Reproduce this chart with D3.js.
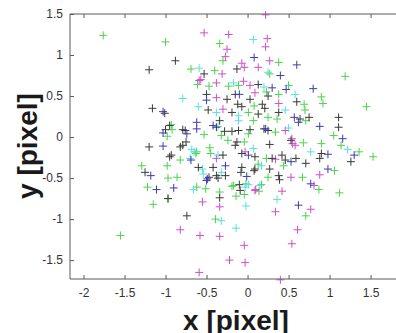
<!DOCTYPE html>
<html><head><meta charset="utf-8">
<script src="https://cdn.jsdelivr.net/npm/d3@7"></script>
<style>
html,body{margin:0;padding:0;background:#fff;}
svg{display:block;}
</style></head>
<body><svg id="c" width="396" height="333"></svg>
<script>
const xTicks = [-2,-1.5,-1,-0.5,0,0.5,1,1.5];
const xTickLabels = ["-2","-1.5","-1","-0.5","0","0.5","1","1.5"];
const yTicks = [-1.5,-1,-0.5,0,0.5,1,1.5];
const yTickLabels = ["-1.5","-1","-0.5","0","0.5","1","1.5"];
const xLabel = "x [pixel]";
const yLabel = "y [pixel]";

const greenPts = [[-1.76,1.24],[-1.0,1.16],[-0.98,0.01],[-1.29,-0.35],[-0.98,-0.35],[-1.22,-0.61],[-1.15,-0.82],[-0.97,-0.75],[-1.55,-1.20],[-0.97,-0.50],[-0.69,0.83],[-0.61,0.64],[-0.93,0.15],[-0.92,0.09],[-0.63,-0.20],[-0.82,-0.28],[-0.34,1.14],[-0.30,0.93],[-0.40,0.81],[-0.47,0.62],[-0.23,0.62],[0.38,0.91],[0.27,0.77],[-0.11,0.63],[0.50,0.63],[0.38,0.52],[0.23,0.55],[0.69,0.40],[0.08,0.38],[1.19,0.74],[0.90,0.49],[0.92,0.41],[1.45,0.37],[0.71,0.20],[1.05,0.02],[1.14,-0.10],[1.36,-0.18],[1.53,-0.24],[0.90,-0.08],[1.06,-0.41],[1.12,-0.68],[0.87,-0.64],[0.67,-0.49],[0.71,-0.96],[-0.39,-1.0],[-0.34,-0.67],[-0.14,-0.72],[-0.04,-0.70],[-0.51,-0.63],[-0.19,-0.60],[-0.02,-0.57],[0.14,-0.66],[-0.53,0.03],[-0.32,0.02],[-0.24,-0.04],[-0.62,-0.18],[-0.46,-0.13],[-0.45,-0.20],[-0.86,-0.49],[-0.62,-0.61],[-0.17,-0.59],[0.01,0.30],[0.07,0.20],[0.25,0.24],[0.36,0.22],[0.70,0.33],[0.01,0.04],[0.34,0.06],[-0.04,-0.06],[0.68,-0.07],[0.23,-0.26],[0.44,-0.35],[0.13,-0.33],[0.17,-0.58],[0.25,-0.49]];

const magentaPts = [[-0.82,-1.13],[-0.58,-1.20],[-0.59,-1.65],[-0.59,0.69],[-0.53,1.27],[-0.23,1.25],[-0.25,1.07],[-0.27,0.98],[-0.31,0.77],[-0.57,0.70],[-0.38,0.66],[-0.38,0.48],[0.22,1.49],[0.24,1.20],[0.22,1.10],[-0.07,0.90],[-0.04,0.85],[0.13,0.85],[0.27,0.93],[-0.05,0.68],[0.03,0.63],[0.09,0.54],[0.38,0.41],[0.55,-0.08],[0.88,-0.46],[0.81,-0.59],[0.53,-0.49],[0.42,-0.66],[0.77,-0.88],[0.34,-0.91],[0.61,-1.13],[0.54,-1.30],[0.40,-1.74],[-0.04,-1.32],[-0.03,-1.53],[-0.22,-1.50],[-0.34,-1.21],[-0.34,-0.85],[-0.55,-0.79],[0.10,-0.64],[-0.30,0.34],[-0.38,-0.26],[0.46,0.08],[-0.03,-0.18],[0.54,-0.02],[0.58,-0.10],[0.34,-0.27],[0.09,-0.65]];

const cyanPts = [[-0.66,-0.64],[-0.59,0.84],[-0.79,0.47],[-0.60,0.37],[-0.68,-0.15],[-0.65,-0.18],[-0.17,0.66],[0.07,1.19],[0.58,0.52],[0.77,-0.18],[1.22,-0.15],[0.36,-0.76],[-0.14,-1.11],[-0.32,-1.02],[-0.02,-0.84],[0.15,-0.59],[-0.38,0.30],[-0.11,0.20],[-0.70,-0.26],[-0.55,-0.39],[-0.54,-0.45],[-0.11,0.26],[0.46,0.33],[0.01,-0.58],[0.25,0.79],[0.20,0.61],[0.07,-0.14],[0.17,-0.35],[0.50,0.11],[-0.03,-0.61],[-0.36,0.13],[-0.36,-0.22],[-0.32,-0.43]];

const blackPts = [[-1.20,0.82],[-1.16,0.35],[-1.01,0.29],[-1.0,0.09],[-1.2,-0.12],[-1.25,-0.43],[-0.97,-0.75],[-0.74,-0.96],[-0.88,0.93],[-0.95,0.14],[-0.79,0.09],[-0.79,-0.10],[-0.75,-0.06],[-0.93,-0.22],[-0.53,0.77],[-0.13,0.83],[-0.50,0.52],[-0.25,0.46],[-0.15,0.52],[-0.12,0.40],[0.13,0.64],[0.60,0.43],[0.03,0.46],[0.18,0.40],[0.25,0.50],[0.75,0.24],[1.11,0.24],[1.11,0.12],[1.26,-0.30],[0.90,-0.20],[0.88,-0.26],[0.71,-0.32],[0.53,-0.04],[0.27,-0.09],[0.20,0.10],[0.39,-0.52],[-0.47,-0.49],[-0.36,-0.50],[-0.08,-0.43],[0.08,-0.41],[0.27,-0.39],[-0.34,-0.74],[-0.10,-0.58],[-0.48,0.33],[-0.19,0.30],[-0.34,0.20],[-0.38,0.12],[-0.76,0.08],[-0.28,0.07],[-0.19,0.07],[-0.15,-0.10],[-0.82,-0.12],[-0.95,-0.24],[-0.30,-0.22],[-0.60,-0.37],[-0.42,-0.37],[-0.38,-0.47],[-0.27,-0.47],[-0.09,-0.65],[-0.07,0.37],[0.13,0.28],[0.21,0.35],[0.38,0.30],[0.64,0.22],[-0.11,0.08],[0.03,0.09],[0.25,0.08],[-0.13,-0.06],[-0.07,-0.20],[0.09,-0.24],[0.30,-0.26],[0.42,-0.22],[0.46,-0.28],[0.59,-0.26],[-0.07,-0.37],[0.09,-0.39],[0.38,-0.47]];

const bluePts = [[-1.03,0.31],[-1.03,0.05],[-1.03,-0.11],[-1.18,-0.47],[-1.11,-0.64],[-0.90,-0.62],[-0.74,0.04],[-0.69,-0.28],[-0.50,0.45],[0.08,0.97],[0.60,0.88],[0.40,0.75],[0.30,0.60],[0.47,0.58],[-0.10,0.52],[0.80,0.59],[0.88,0.13],[0.57,0.24],[0.62,0.18],[1.16,-0.02],[1.30,-0.22],[0.98,-0.21],[0.98,-0.39],[0.77,-0.57],[0.62,-0.83],[-0.49,-0.51],[-0.42,0.14],[-0.62,0.18],[-0.62,0.10],[-0.27,-0.35],[-0.50,-0.53],[0.22,0.10],[0.01,-0.22],[0.53,-0.30],[-0.01,-0.48]];

const seriesColors = ["#4dd24d","#cc4fcc","#5cdede","#3a3a3a","#3c3cb0"];
const series = [greenPts, magentaPts, cyanPts, blackPts, bluePts];

const svg = d3.select("#c");
const L = 70, R = 396, T = 14, B = 279;
const x = d3.scaleLinear().domain([-2.165, 1.81]).range([L, R]);
const y = d3.scaleLinear().domain([-1.73, 1.5]).range([B, T]);

const axisColor = "#5a5a5a";
const font = "'Liberation Sans', Arial, Helvetica, sans-serif";

// points
const arm = 4;
series.forEach((pts, i) => {
  const g = svg.append("g").attr("stroke", seriesColors[i]).attr("stroke-width", 1).attr("fill","none");
  g.selectAll("path").data(pts).join("path")
    .attr("d", d => {
      const px = x(d[0]), py = y(d[1]);
      return `M${px-arm},${py}H${px+arm}M${px},${py-arm}V${py+arm}`;
    });
});

// axes
const xa = svg.append("g").attr("transform", `translate(0,${B})`)
  .call(d3.axisBottom(x).tickValues(xTicks).tickSize(-4).tickPadding(9)
    .tickFormat((d,i) => xTickLabels[i]));
const xt = svg.append("g").attr("transform", `translate(0,${T})`)
  .call(d3.axisTop(x).tickValues(xTicks).tickSize(-4).tickFormat(""));
const ya = svg.append("g").attr("transform", `translate(${L},0)`)
  .call(d3.axisLeft(y).tickValues(yTicks).tickSize(-4).tickPadding(7)
    .tickFormat((d,i) => yTickLabels[i]));
[xa, xt, ya].forEach(g => {
  g.select(".domain").attr("stroke", axisColor);
  g.selectAll(".tick line").attr("stroke", axisColor);
  g.selectAll(".tick text").attr("fill", "#333").style("font-family", font).style("font-size", "12px");
});
// clean domain ends
xa.select(".domain").attr("d", `M${L},0H${R}`);
xt.select(".domain").attr("d", `M${L},0H${R}`);
ya.select(".domain").attr("d", `M0,${T}V${B}`);

// labels
svg.append("text").attr("x", 236).attr("y", 330).attr("text-anchor","middle")
  .style("font-family", font).style("font-weight","bold").style("font-size","28px").attr("fill","#1a1a1a")
  .text(xLabel);
svg.append("text").attr("transform","translate(37,146) rotate(-90)").attr("text-anchor","middle")
  .style("font-family", font).style("font-weight","bold").style("font-size","28px").attr("fill","#1a1a1a")
  .text(yLabel);
</script></body></html>
